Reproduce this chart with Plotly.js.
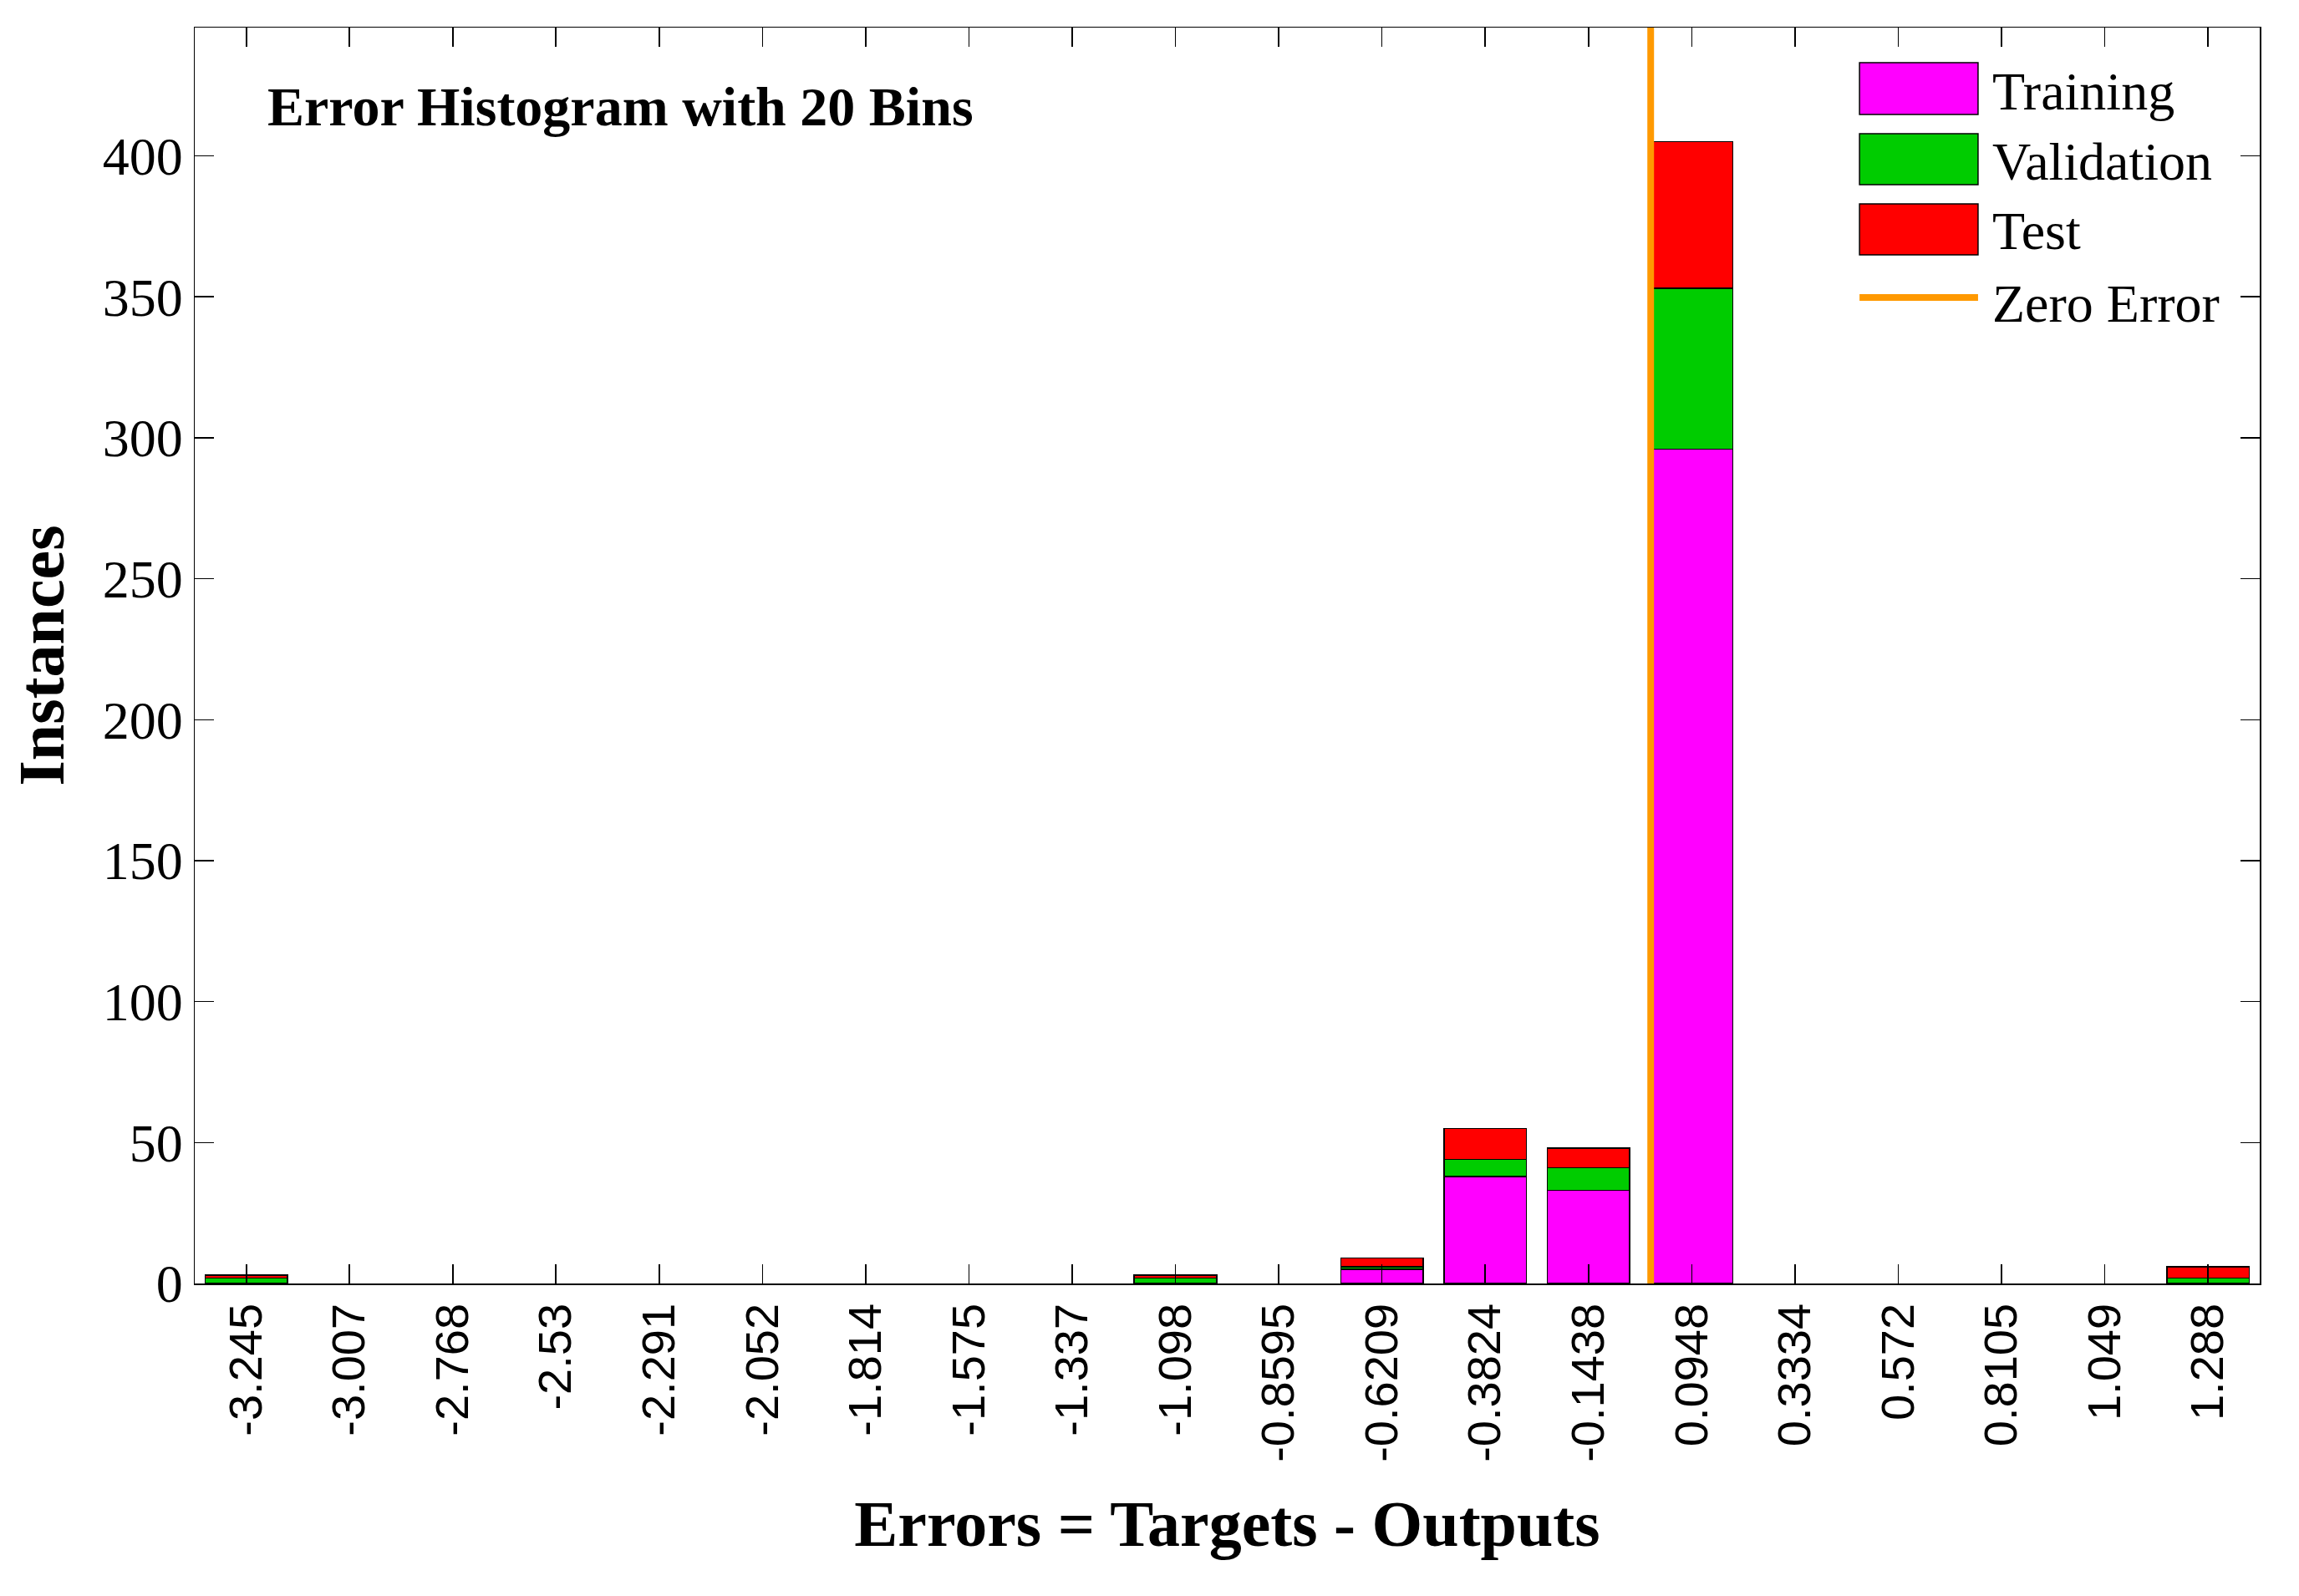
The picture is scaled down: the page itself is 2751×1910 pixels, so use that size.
<!DOCTYPE html>
<html>
<head>
<meta charset="utf-8">
<script src="https://cdn.plot.ly/plotly-3.0.1.min.js"></script>
<style>
  html, body { margin: 0; padding: 0; background: #fff; }
  #plot { width: 2751px; height: 1910px; }
</style>
</head>
<body>
<div id="plot"></div>
<script>
// bin centers and their tick labels
const binCenters = [-3.245, -3.007, -2.768, -2.53, -2.291, -2.052, -1.814, -1.575, -1.337, -1.098,
                    -0.8595, -0.6209, -0.3824, -0.1438, 0.0948, 0.3334, 0.572, 0.8105, 1.049, 1.288];
const binLabels = ['-3.245', '-3.007', '-2.768', '-2.53', '-2.291', '-2.052', '-1.814', '-1.575', '-1.337', '-1.098',
                   '-0.8595', '-0.6209', '-0.3824', '-0.1438', '0.0948', '0.3334', '0.572', '0.8105', '1.049', '1.288'];

// instances per bin
const training   = [0, 0, 0, 0, 0, 0, 0, 0, 0, 0, 0, 5, 38, 33, 296, 0, 0, 0, 0, 0];
const validation = [2, 0, 0, 0, 0, 0, 0, 0, 0, 2, 0, 1, 6, 8, 57, 0, 0, 0, 0, 2];
const test       = [1, 0, 0, 0, 0, 0, 0, 0, 0, 1, 0, 3, 11, 7, 52, 0, 0, 0, 0, 4];

const yTicks = [0, 50, 100, 150, 200, 250, 300, 350, 400];

const colors = { training: '#ff00ff', validation: '#00cc00', test: '#ff0000', zero: '#ff9900' };
const serif = 'Liberation Serif, Times New Roman, serif';
const sans = 'Liberation Sans, Arial, sans-serif';

const binWidth = (binCenters[binCenters.length - 1] - binCenters[0]) / (binCenters.length - 1);

// y limit like ploterrhist: 10% above the tallest stack
let maxStack = 0;
for (let i = 0; i < binCenters.length; i++) {
    maxStack = Math.max(maxStack, training[i] + validation[i] + test[i]);
}
const yMax = maxStack * 1.1;

function barTrace(name, values, color) {
    return {
        type: 'bar',
        x: binCenters,
        y: values,
        name: name,
        width: binWidth * 0.8,
        // no outline on empty bins
        marker: { color: color, line: { color: '#000', width: values.map(v => v > 0 ? 1.5 : 0) } },
        hoverinfo: 'x+y+name'
    };
}

const traces = [
    barTrace('Training', training, colors.training),
    barTrace('Validation', validation, colors.validation),
    barTrace('Test', test, colors.test)
];

// hand-made legend (big swatches like the MATLAB one)
const legendItems = [
    { name: 'Training', color: colors.training, kind: 'rect', y0: 0.9308, y1: 0.9721, ty: 0.9494 },
    { name: 'Validation', color: colors.validation, kind: 'rect', y0: 0.8749, y1: 0.9155, ty: 0.8935 },
    { name: 'Test', color: colors.test, kind: 'rect', y0: 0.8190, y1: 0.8596, ty: 0.8377 },
    { name: 'Zero Error', color: colors.zero, kind: 'line', y0: 0.7851, y1: 0.7851, ty: 0.7804 }
];
const swX0 = 0.8062, swX1 = 0.8636, txtX = 0.8697;

const shapes = [
    // zero error line
    { type: 'line', xref: 'x', yref: 'paper', x0: 0, x1: 0, y0: 0, y1: 1,
      line: { color: colors.zero, width: 8 } }
];
const annotations = [
    { text: '<b>Error Histogram with 20 Bins</b>', xref: 'paper', yref: 'paper',
      x: 0.0344, y: 0.9368, xanchor: 'left', yanchor: 'middle', showarrow: false,
      font: { family: serif, size: 66, color: '#000' } }
];

legendItems.forEach(it => {
    if (it.kind === 'rect') {
        shapes.push({ type: 'rect', xref: 'paper', yref: 'paper', x0: swX0, x1: swX1, y0: it.y0, y1: it.y1,
                      fillcolor: it.color, line: { color: '#000', width: 1.5 } });
    } else {
        shapes.push({ type: 'line', xref: 'paper', yref: 'paper', x0: swX0, x1: swX1, y0: it.y0, y1: it.y1,
                      line: { color: it.color, width: 8 } });
    }
    annotations.push({ text: it.name, xref: 'paper', yref: 'paper', x: txtX, y: it.ty,
                       xanchor: 'left', yanchor: 'middle', showarrow: false,
                       font: { family: serif, size: 64, color: '#000' } });
});

const layout = {
    width: 2751,
    height: 1910,
    margin: { l: 233, r: 47, t: 33, b: 374 },
    paper_bgcolor: '#fff',
    plot_bgcolor: '#fff',
    barmode: 'stack',
    bargap: 0,
    showlegend: false,
    xaxis: {
        range: [binCenters[0] - binWidth / 2, binCenters[binCenters.length - 1] + binWidth / 2],
        tickmode: 'array',
        tickvals: binCenters,
        ticktext: binLabels,
        tickangle: -90,
        ticks: 'inside',
        ticklen: 23,
        tickwidth: 1.5,
        tickcolor: '#000',
        showline: true,
        linecolor: '#000',
        linewidth: 1.5,
        mirror: 'ticks',
        showgrid: false,
        zeroline: false,
        tickfont: { family: sans, size: 56, color: '#000' },
        title: { text: '<b>Errors = Targets - Outputs</b>', standoff: 46,
                 font: { family: serif, size: 78, color: '#000' } }
    },
    yaxis: {
        range: [0, yMax],
        tickmode: 'array',
        tickvals: yTicks,
        ticks: 'inside',
        ticklen: 23,
        tickwidth: 1.5,
        tickcolor: '#000',
        showline: true,
        linecolor: '#000',
        linewidth: 1.5,
        mirror: 'ticks',
        showgrid: false,
        zeroline: false,
        tickfont: { family: serif, size: 64, color: '#000' },
        title: { text: '<b>Instances</b>', standoff: 20,
                 font: { family: serif, size: 78, color: '#000' } }
    },
    shapes: shapes,
    annotations: annotations
};

Plotly.newPlot('plot', traces, layout, { displayModeBar: false, staticPlot: true });
</script>
</body>
</html>
